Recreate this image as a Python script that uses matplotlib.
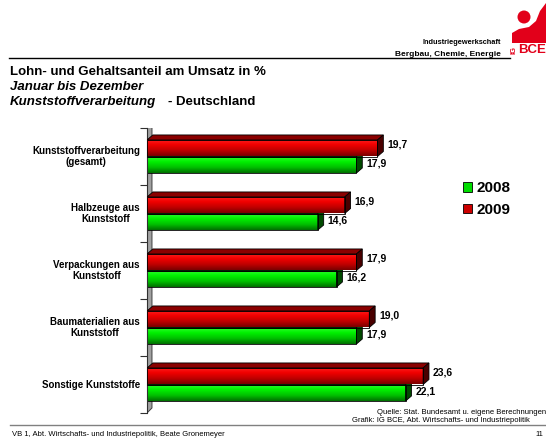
import numpy as np
import matplotlib
matplotlib.use("Agg")
import matplotlib.pyplot as plt
from matplotlib.patches import Polygon, Patch, Ellipse
from matplotlib.lines import Line2D
from matplotlib.colors import LinearSegmentedColormap

plt.rcParams['font.family'] = ['Liberation Sans', 'DejaVu Sans']

# data
categories = ["Kunststoffverarbeitung\n(gesamt)", "Halbzeuge aus\nKunststoff",
              "Verpackungen aus\nKunststoff", "Baumaterialien aus\nKunststoff",
              "Sonstige Kunststoffe"]
values_2008 = [17.9, 14.6, 16.2, 17.9, 22.1]
values_2009 = [19.7, 16.9, 17.9, 19.0, 23.6]
series_names = ["2008", "2009"]

W, H = 546, 441
fig = plt.figure(figsize=(W / 100, H / 100), dpi=100)


def px(x, y):
    return x / W, 1 - y / H


# plot area: zero at x=147px, 11.7 px per unit; bands from y=128 to 413
ax = fig.add_axes([147 / W, (H - 413) / H, 351 / W, 285 / H])
ax.set_xlim(0, 30)
ax.set_ylim(4.5, -0.5)

dx, dy = 0.5, 0.088   # 3d depth in data units
bh = 0.29

red_cm = LinearSegmentedColormap.from_list("r", ["#ff2020", "#f00000", "#c00000", "#7a0000"])
green_cm = LinearSegmentedColormap.from_list("g", ["#30ff30", "#00f000", "#00c000", "#007000"])
grad = np.linspace(0, 1, 64).reshape(-1, 1)

# wall
wall = Polygon([(0, 4.5), (0, -0.5), (dx * 0.85, -0.5 - dy), (dx * 0.85, 4.5 - dy)],
               closed=True, facecolor="#a0a0a0", edgecolor="#404040", lw=0.7, zorder=1)
ax.add_patch(wall)


def bar3d(v, ytop, ybot, cmap, topc, sidec, z):
    ax.imshow(grad, cmap=cmap, extent=(0, v, ybot, ytop), origin="upper",
              aspect="auto", zorder=z, interpolation="bilinear")
    ax.add_patch(Polygon([(0, ytop), (0, ybot), (v, ybot), (v, ytop)], closed=True,
                         fill=False, edgecolor="black", lw=0.6, zorder=z + 0.1))
    ax.add_patch(Polygon([(0, ytop), (v, ytop), (v + dx, ytop - dy), (dx, ytop - dy)],
                         closed=True, facecolor=topc, edgecolor="black", lw=0.6, zorder=z))
    ax.add_patch(Polygon([(v, ytop), (v + dx, ytop - dy), (v + dx, ybot - dy), (v, ybot)],
                         closed=True, facecolor=sidec, edgecolor="black", lw=0.6, zorder=z))


for i, (g, r) in enumerate(zip(values_2008, values_2009)):
    bar3d(g, i, i + bh, green_cm, "#008000", "#004a00", 2)
    bar3d(r, i - bh, i, red_cm, "#8a0000", "#4a0000", 3)
    ax.text(r + dx + 0.35, i - bh / 2 - 0.06, f"{r:.1f}".replace(".", ","),
            fontsize=7.5, fontweight="bold", va="center", ha="left")
    ax.text(g + dx + 0.35, i + bh / 2 - 0.03, f"{g:.1f}".replace(".", ","),
            fontsize=7.5, fontweight="bold", va="center", ha="left")
    ax.text(-0.6, i, categories[i], fontsize=7, fontweight="bold",
            ha="right", va="center", multialignment="center")

ax.set_xlim(0, 30)
ax.set_ylim(4.5, -0.5)
ax.set_yticks(np.arange(-0.5, 5, 1))
ax.set_xticks([])
ax.tick_params(axis="y", length=5, width=0.8, color="#303030", labelleft=False)
for s in ["top", "right", "bottom"]:
    ax.spines[s].set_visible(False)
ax.spines["left"].set_color("#303030")
ax.spines["left"].set_linewidth(0.8)
ax.patch.set_alpha(0)

handles = [Patch(facecolor="#00dd00", edgecolor="black", lw=0.6),
           Patch(facecolor="#cc0000", edgecolor="black", lw=0.6)]
fig.legend(handles, series_names, loc="center left", bbox_to_anchor=px(463, 199),
           frameon=False, prop={"size": 11, "weight": "bold"}, handlelength=0.6,
           handleheight=0.6, handletextpad=0.3, labelspacing=0.5, borderpad=0,
           borderaxespad=0)

# header
fig.text(*px(10, 72), "Lohn- und Gehaltsanteil am Umsatz in %", fontsize=9.5,
         fontweight="bold", va="center")
fig.text(*px(10, 87), "Januar bis Dezember", fontsize=9.5, fontweight="bold",
         style="italic", va="center")
fig.text(*px(10, 102), "Kunststoffverarbeitung", fontsize=9.5, fontweight="bold",
         style="italic", va="center")
fig.text(*px(168, 102), "- Deutschland", fontsize=9.5, fontweight="bold", va="center")
fig.text(*px(501, 43), "Industriegewerkschaft", fontsize=5.3, fontweight="bold",
         ha="right", va="center")
fig.text(*px(501, 54), "Bergbau, Chemie, Energie", fontsize=6, fontweight="bold",
         ha="right", va="center")
fig.add_artist(Line2D([px(9, 58)[0], px(510, 58)[0]], [px(9, 58)[1], px(510, 58)[1]],
                      color="black", lw=1))

# logo
red = "#e2001a"
body = [px(512, 43), px(512, 33), px(519, 29), px(529, 27), px(536, 21), px(540, 11),
        px(546, 3), px(546, 43)]
fig.add_artist(Polygon(body, closed=True, transform=fig.transFigure,
                       facecolor=red, edgecolor="none"))
fig.add_artist(Ellipse(px(524, 17), 13 / W, 13 / H, transform=fig.transFigure,
                       facecolor=red, edgecolor="none"))
fig.text(*px(514, 50), "IG", fontsize=5.5, fontweight="bold", color=red, rotation=90,
         ha="center", va="center")
fig.text(*px(518, 50), "BCE", fontsize=9.5, fontweight="bold", color=red,
         ha="left", va="center")

# footer
fig.text(*px(546, 412), "Quelle: Stat. Bundesamt u. eigene Berechnungen", fontsize=5.5,
         ha="right", va="center")
fig.text(*px(352, 420), "Grafik: IG BCE, Abt. Wirtschafts- und Industriepolitik",
         fontsize=5.5, ha="left", va="center")
fig.add_artist(Line2D([px(10, 425)[0], 1], [px(10, 425)[1], px(10, 425)[1]],
                      color="#808080", lw=1))
fig.text(*px(12, 435), "VB 1, Abt. Wirtschafts- und Industriepolitik, Beate Gronemeyer",
         fontsize=5.5, va="center")
fig.text(*px(535, 434), "11", fontsize=5.5, va="center")

fig.savefig("out.png", dpi=100)
